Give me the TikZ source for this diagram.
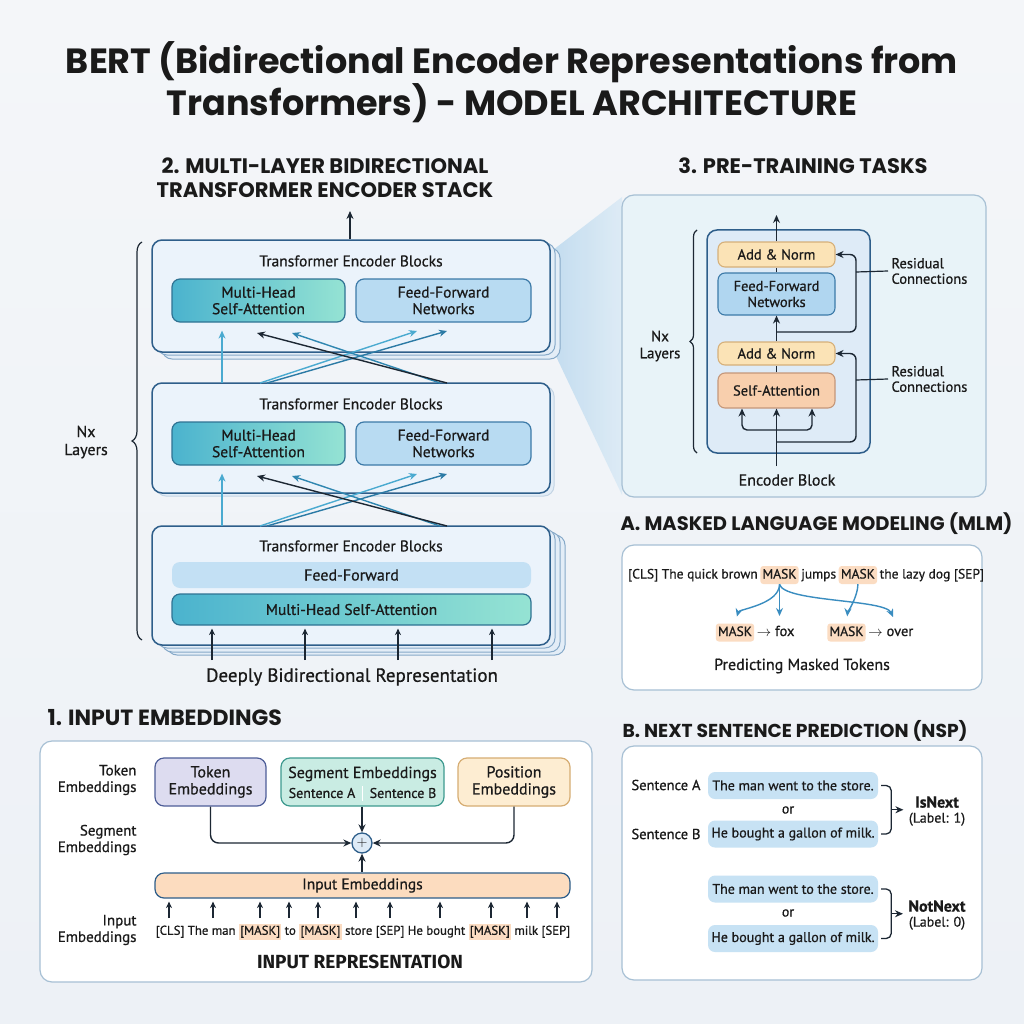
\documentclass[tikz,border=0pt]{standalone}
\usepackage{fontspec}
\setmainfont{PT Sans}[FakeBold=0.7]
\newfontfamily\titlefont{Poppins}
\newfontfamily\headfont{Fira Sans}
\usetikzlibrary{arrows.meta,decorations.pathreplacing,calc}
\definecolor{txt}{HTML}{1A1A1A}
\definecolor{bgtop}{HTML}{F4F6F9}
\definecolor{bgbot}{HTML}{EDF1F6}
\definecolor{blkfill}{HTML}{EBF3FB}
\definecolor{blkdraw}{HTML}{2E5E8A}
\definecolor{layerdraw}{HTML}{86A9C8}
\definecolor{layerfill}{HTML}{E3EDF7}
\definecolor{tealL}{HTML}{4BB3CE}
\definecolor{tealR}{HTML}{95E3D3}
\definecolor{tealdraw}{HTML}{2F7393}
\definecolor{ffnfill}{HTML}{B8DBF2}
\definecolor{ffndraw}{HTML}{3C7AA8}
\definecolor{ffbar}{HTML}{C3E0F4}
\definecolor{darkarr}{HTML}{1C2733}
\definecolor{bluearr}{HTML}{2B7AA5}
\definecolor{midarr}{HTML}{2F86B0}
\definecolor{lightarr}{HTML}{4AAAD0}
\definecolor{panelfill}{HTML}{E8F3F8}
\definecolor{paneldraw}{HTML}{A7C0D4}
\definecolor{encfill}{HTML}{DEEBF7}
\definecolor{anfill}{HTML}{FBE3B6}
\definecolor{andraw}{HTML}{D6B07A}
\definecolor{safill}{HTML}{F8CFAD}
\definecolor{sadraw}{HTML}{C4977A}
\definecolor{ptffn}{HTML}{B0D6F0}
\definecolor{maskc}{HTML}{FBDCC2}
\definecolor{mlmarr}{HTML}{3A8DC0}
\definecolor{sentfill}{HTML}{C7E2F4}
\definecolor{tokfill}{HTML}{DDDCF0}
\definecolor{tokdraw}{HTML}{4E5E98}
\definecolor{segfill}{HTML}{C9ECE3}
\definecolor{segdraw}{HTML}{3E9A8F}
\definecolor{posfill}{HTML}{FDEDD2}
\definecolor{posdraw}{HTML}{D6AD73}
\definecolor{inembfill}{HTML}{FCDCBF}
\definecolor{wedgec}{HTML}{BCD9EE}
\newcommand\fsz[2]{\fontsize{#1}{#2}\selectfont}
\newcommand\mk[1]{{\setlength{\fboxsep}{1.2pt}\colorbox{maskc}{\strut #1}}}
\begin{document}
\begin{tikzpicture}[x=1pt,y=-1pt,
  every node/.style={text=txt},
  blk/.style={draw=blkdraw, fill=blkfill, line width=1.5pt, rounded corners=10pt, inner sep=0pt},
  layer/.style={draw=layerdraw, fill=layerfill, line width=1pt, rounded corners=10pt},
  mhs/.style={draw=tealdraw, line width=1.2pt, rounded corners=8pt, left color=tealL, right color=tealR, align=center, inner sep=0pt, font=\fsz{15.5}{16.5}},
  ffs/.style={draw=ffndraw, line width=1.2pt, rounded corners=8pt, fill=ffnfill, align=center, inner sep=0pt, font=\fsz{15.5}{16.5}},
  lbl/.style={font=\fsz{15.5}{17}, align=center},
  head/.style={font=\titlefont\bfseries\fsz{21}{24}, align=center},
  arr/.style={-{Stealth[length=8pt,width=7pt]}, line width=1.4pt, draw=darkarr},
  sarr/.style={-{Stealth[length=6.5pt,width=6pt]}, line width=1.2pt, draw=darkarr},
  plain/.style={line width=1.4pt, draw=darkarr},
  panel/.style={draw=paneldraw, line width=1.2pt, rounded corners=12pt, inner sep=0pt},
  anb/.style={draw=andraw, fill=anfill, line width=1.1pt, rounded corners=7pt, minimum width=117pt, inner sep=0pt, font=\fsz{14.5}{16}, align=center},
  wd/.style={inner xsep=2.2pt, inner ysep=3pt, text height=9.5pt, text depth=2.5pt, font=\fsz{13.5}{15}},
  maskn/.style={wd, fill=maskc, rounded corners=3pt},
  sent/.style={fill=sentfill, rounded corners=7pt, minimum width=170pt, minimum height=27pt, inner sep=0pt, font=\fsz{14}{15}},
  brk/.style={line width=1.3pt, draw=darkarr, rounded corners=5pt},
  mlma/.style={-{Stealth[length=8pt,width=7pt]}, line width=1.4pt, draw=mlmarr},
  embb/.style={line width=1.2pt, rounded corners=9pt, minimum height=48pt, inner sep=0pt, align=center, font=\fsz{16}{17}}
]
\useasboundingbox (0,0) rectangle (1024,1024);
\shade[top color=bgtop, bottom color=bgbot] (0,0) rectangle (1024,1024);

% ---------- title ----------
\node[font=\titlefont\bfseries\fsz{35}{40}, align=center] (title) at (512,82) {BERT (Bidirectional Encoder Representations from\\Transformers) - MODEL ARCHITECTURE};

% ---------- headings ----------
\node[head] (h2) at (325,178) {2. MULTI-LAYER BIDIRECTIONAL\\TRANSFORMER ENCODER STACK};
\node[head] (h3) at (803,166) {3. PRE-TRAINING TASKS};
\node[head, anchor=west, font=\titlefont\bfseries\fsz{22}{24}] (h1) at (44,718) {1. INPUT EMBEDDINGS};
\node[head, anchor=west, font=\titlefont\bfseries\fsz{19.5}{24}] (hA) at (617,524) {A. MASKED LANGUAGE MODELING (MLM)};
\node[head, anchor=west, font=\titlefont\bfseries\fsz{18.7}{24}] (hB) at (619,731) {B. NEXT SENTENCE PREDICTION (NSP)};

% ---------- wedge ----------
\shade[left color=wedgec, right color=wedgec!55, opacity=0.85] (553,250) -- (622,197) -- (622,495) -- (553,350) -- cycle;

% ---------- encoder stack ----------
\draw[layer] (162,248) rectangle (560,359);
\draw[layer] (157,243) rectangle (555,355);
\node[blk, minimum width=398pt, minimum height=112pt] (b1) at (351,296) {};
\node[lbl] (t1) at (351,261) {Transformer Encoder Blocks};
\node[mhs, minimum width=173pt, minimum height=43pt] (mh1) at (258.5,300.5) {Multi-Head\\Self-Attention};
\node[ffs, minimum width=175pt, minimum height=43pt] (ff1) at (443.5,300.5) {Feed-Forward\\Networks};

\draw[layer, draw=layerdraw!50, fill=layerfill] (156,386) rectangle (554,496);
\node[blk, minimum width=398pt, minimum height=110pt] (b2) at (351,438) {};
\node[lbl] (t2) at (351,404) {Transformer Encoder Blocks};
\node[mhs, minimum width=173pt, minimum height=43pt] (mh2) at (258.5,443.5) {Multi-Head\\Self-Attention};
\node[ffs, minimum width=175pt, minimum height=43pt] (ff2) at (443.5,443.5) {Feed-Forward\\Networks};

\draw[layer] (167,535) rectangle (565,655);
\draw[layer] (162,532) rectangle (560,652);
\draw[layer] (157,529) rectangle (555,648);
\node[blk, minimum width=398pt, minimum height=119pt] (b3) at (351,585.5) {};
\node[lbl] (t3) at (351,546) {Transformer Encoder Blocks};
\node[fill=ffbar, rounded corners=8pt, minimum width=359pt, minimum height=26pt, inner sep=0pt, font=\fsz{16}{17}] (ff3) at (351.5,575) {Feed-Forward};
\node[mhs, minimum width=359pt, minimum height=31pt] (mh3) at (351.5,609.5) {Multi-Head Self-Attention};

% arrows block2 -> block1
\coordinate (v1s) at (222,383);
\draw[arr, draw=lightarr, shorten >=8pt] (v1s) -- (v1s |- mh1.south);
\coordinate (x1a) at (260,383); \coordinate (x1ae) at (417,331);
\coordinate (x1b) at (267,383); \coordinate (x1be) at (447,331);
\coordinate (x1c) at (447,383); \coordinate (x1ce) at (257,333);
\coordinate (x1d) at (440,383); \coordinate (x1de) at (292,333);
\draw[arr, draw=lightarr] (x1a) -- (x1ae);
\draw[arr, draw=bluearr] (x1b) -- (x1be);
\draw[arr, draw=midarr] (x1d) -- (x1de);
\draw[arr, draw=darkarr] (x1c) -- (x1ce);
% arrows block3 -> block2
\coordinate (v2s) at (222,526);
\draw[arr, draw=lightarr, shorten >=8pt] (v2s) -- (v2s |- mh2.south);
\coordinate (x2a) at (260,526); \coordinate (x2ae) at (417,474);
\coordinate (x2b) at (267,526); \coordinate (x2be) at (447,474);
\coordinate (x2c) at (447,526); \coordinate (x2ce) at (257,476);
\coordinate (x2d) at (440,526); \coordinate (x2de) at (292,476);
\draw[arr, draw=lightarr] (x2a) -- (x2ae);
\draw[arr, draw=bluearr] (x2b) -- (x2be);
\draw[arr, draw=midarr] (x2d) -- (x2de);
\draw[arr, draw=darkarr] (x2c) -- (x2ce);

% top output arrow
\coordinate (stackout) at (350,211);
\draw[arr] (b1.north -| stackout) -- (stackout);

% bottom input arrows
\foreach \x [count=\i] in {212,305,398,492} {
  \coordinate (bb\i) at (\x,660);
  \draw[sarr, shorten >=3pt] (bb\i) -- (bb\i |- mh3.south);
}
\node[font=\fsz{19}{21}] (dbr) at (352,677) {Deeply Bidirectional Representation};

% brace
\draw[line width=1.2pt, draw=darkarr, decorate, decoration={brace, amplitude=10pt}] (142,640) -- (142,242);
\node[lbl, font=\fsz{16}{18}] (nx1) at (86,442) {Nx\\Layers};

% ---------- pre-training panel ----------
\node[panel, fill=panelfill, minimum width=364pt, minimum height=302pt] (pt) at (804,346) {};
\node[draw=blkdraw, fill=encfill, line width=1.5pt, rounded corners=10pt, minimum width=163pt, minimum height=223pt, inner sep=0pt] (enc) at (788.5,341.5) {};
\node[anb, minimum height=25pt] (an2) at (776.5,254.5) {Add \& Norm};
\node[anb, draw=ffndraw, fill=ptffn, minimum height=42pt] (ffn) at (776.5,294) {Feed-Forward\\Networks};
\node[anb, minimum height=23pt] (an1) at (776.5,353.5) {Add \& Norm};
\node[anb, draw=sadraw, fill=safill, minimum height=35pt] (sa) at (776.5,390.5) {Self-Attention};
\coordinate (encin) at (776.5,466);
\coordinate (encout) at (776.5,215);
\draw[arr] (an2.north) -- (encout);
\draw[plain] (ffn.north) -- (an2.south);
\draw[arr] (an1.north) -- (ffn.south);
\draw[plain] (sa.north) -- (an1.south);
\draw[arr] (encin) -- (sa.south);
\coordinate (brL) at (742,430);
\coordinate (brR) at (812,430);
\draw[{Stealth[length=8pt,width=7pt]}-{Stealth[length=8pt,width=7pt]}, line width=1.4pt, draw=darkarr, rounded corners=5pt] (sa.south -| brL) -- (brL) -- (brR) -- (sa.south -| brR);
\coordinate (r1s) at (776.5,442);
\coordinate (r2s) at (776.5,332);
\draw[arr, rounded corners=6pt] (r1s) -- ++(79.5,0) |- (an1.east);
\draw[arr, rounded corners=6pt] (r2s) -- ++(79.5,0) |- (an2.east);
\node[anchor=west, align=left, font=\fsz{14.5}{15.5}] (rc2) at (888,271) {Residual\\Connections};
\node[anchor=west, align=left, font=\fsz{14.5}{15.5}] (rc1) at (888,379) {Residual\\Connections};
\draw[line width=1.2pt, draw=darkarr] (856,272) -- (rc2.west);
\draw[line width=1.2pt, draw=darkarr] (856,380) -- (rc1.west);
\node[font=\fsz{16}{17}] (eb) at (787,480) {Encoder Block};
\draw[line width=1.2pt, draw=darkarr, decorate, decoration={brace, amplitude=7pt}] (697,453) -- (697,230);
\node[lbl, font=\fsz{15}{17}] (nx2) at (660,346) {Nx\\Layers};

% ---------- MLM ----------
\node[panel, fill=white, minimum width=360pt, minimum height=145pt] (mlm) at (802,617.5) {};
\node[maskn] (m1) at (779.5,575) {MASK};
\node[wd, anchor=east] (s1) at (m1.west) {[CLS] The quick brown};
\node[wd, anchor=west] (s2) at (m1.east) {jumps};
\node[maskn, anchor=west] (m2) at (s2.east) {MASK};
\node[wd, anchor=west] (s3) at (m2.east) {the lazy dog [SEP]};
\node[maskn] (mf) at (735,632.5) {MASK};
\node[wd, anchor=west, font=\fsz{14.5}{15}] (fox) at (mf.east) {$\rightarrow$ fox};
\node[maskn] (mo) at (846.5,632.5) {MASK};
\node[wd, anchor=west, font=\fsz{14.5}{15}] (over) at (mo.east) {$\rightarrow$ over};
\coordinate (t2) at (779.5,616);
\coordinate (t3) at (893,617);
\draw[mlma, shorten >=7pt] (m1.south) .. controls +(0,20) and +(4,-14) .. (mf.north);
\draw[mlma] (m1.south) -- (t2);
\draw[mlma] (m1.south) .. controls +(4,18) and +(-8,-18) .. (t3);
\draw[mlma, shorten >=7pt] (m2.south) .. controls +(0,12) and +(1,-10) .. (mo.north);
\node[font=\fsz{16}{17}] (pmt) at (802,666) {Predicting Masked Tokens};

% ---------- NSP ----------
\node[panel, fill=white, minimum width=360pt, minimum height=234pt] (nsp) at (802,863) {};
\node[sent] (sb1) at (793,785.5) {The man went to the store.};
\node[sent] (sb2) at (793,834) {He bought a gallon of milk.};
\node[font=\fsz{14}{15}] (or1) at (788,810) {or};
\node[font=\fsz{14.5}{16}, anchor=east] (sA) at (704,785) {Sentence A};
\node[font=\fsz{14.5}{16}, anchor=east] (sBl) at (704,834) {Sentence B};
\draw[brk] ($(sb1.east)+(3,0)$) -- ++(10,0) |- ($(sb2.east)+(3,0)$);
\node[align=center, font=\fsz{14}{15}] (isn) at (937,811) {{\bfseries\fsz{16}{16}IsNext}\\(Label: 1)};
\coordinate (br1) at ($(sb1.east)!0.5!(sb2.east)+(13,0)$);
\draw[arr, shorten >=2pt] (br1) -- (br1 -| isn.west);

\node[sent] (sb3) at (793,889) {The man went to the store.};
\node[sent] (sb4) at (793,938.5) {He bought a gallon of milk.};
\node[font=\fsz{14}{15}] (or2) at (788,913) {or};
\draw[brk] ($(sb3.east)+(3,0)$) -- ++(10,0) |- ($(sb4.east)+(3,0)$);
\node[align=center, font=\fsz{14}{15}] (ntn) at (937,915) {{\bfseries\fsz{16}{16}NotNext}\\(Label: 0)};
\coordinate (br2) at ($(sb3.east)!0.5!(sb4.east)+(13,0)$);
\draw[arr, shorten >=2pt] (br2) -- (br2 -| ntn.west);

% ---------- input embeddings ----------
\node[panel, fill=white, minimum width=552pt, minimum height=241pt] (inb) at (316,861.5) {};
\node[embb, draw=tokdraw, fill=tokfill, minimum width=111pt] (tok) at (210.5,782) {Token\\Embeddings};
\node[embb, draw=segdraw, fill=segfill, minimum width=163pt] (seg) at (362.5,782) {};
\node[embb, draw=posdraw, fill=posfill, minimum width=112pt] (pos) at (514,782) {Position\\Embeddings};
\node[font=\fsz{16}{17}] (segt) at (362.5,774) {Segment Embeddings};
\node[font=\fsz{14}{15}] (sgA) at (322,793) {Sentence A};
\node[font=\fsz{14}{15}] (sgB) at (403,793) {Sentence B};
\draw[white, line width=1.2pt] (362.5,786) -- (362.5,801);
\node[circle, draw=blkdraw, fill=encfill, line width=1.3pt, minimum size=20pt, inner sep=0pt, font=\fsz{15}{15}] (plus) at (362,843) {$+$};
\node[draw=blkdraw, fill=inembfill, line width=1.2pt, rounded corners=9pt, minimum width=415pt, minimum height=25pt, inner sep=0pt, font=\fsz{15.5}{16}] (inemb) at (362.5,885.5) {Input Embeddings};
\draw[arr, rounded corners=8pt] (tok.south) |- (plus.west);
\draw[arr, rounded corners=8pt] (pos.south) |- (plus.east);
\draw[arr] (seg.south -| plus) -- (plus.north);
\draw[arr] (inemb.north -| plus) -- (plus.south);
\node[font=\fsz{15}{16.5}, align=right, anchor=east] (lt) at (140,780) {Token\\Embeddings};
\node[font=\fsz{15}{16.5}, align=right, anchor=east] (ls) at (140,840) {Segment\\Embeddings};
\node[font=\fsz{15}{16.5}, align=right, anchor=east] (li) at (140,930) {Input\\Embeddings};
\node[font=\fsz{12.8}{14}] (toks) at (363,932) {[CLS] The man \mk{[MASK]} to \mk{[MASK]} store [SEP] He bought \mk{[MASK]} milk [SEP]};
\foreach \x [count=\i] in {169,213,260,289,318,356,390,440,491,527,557} {
  \coordinate (ta\i) at (\x,918);
  \draw[sarr, shorten >=3pt] (ta\i) -- (ta\i |- inemb.south);
}
\node[font=\headfont\bfseries\fsz{19}{20}] (irep) at (360,962) {INPUT REPRESENTATION};
\end{tikzpicture}
\end{document}
